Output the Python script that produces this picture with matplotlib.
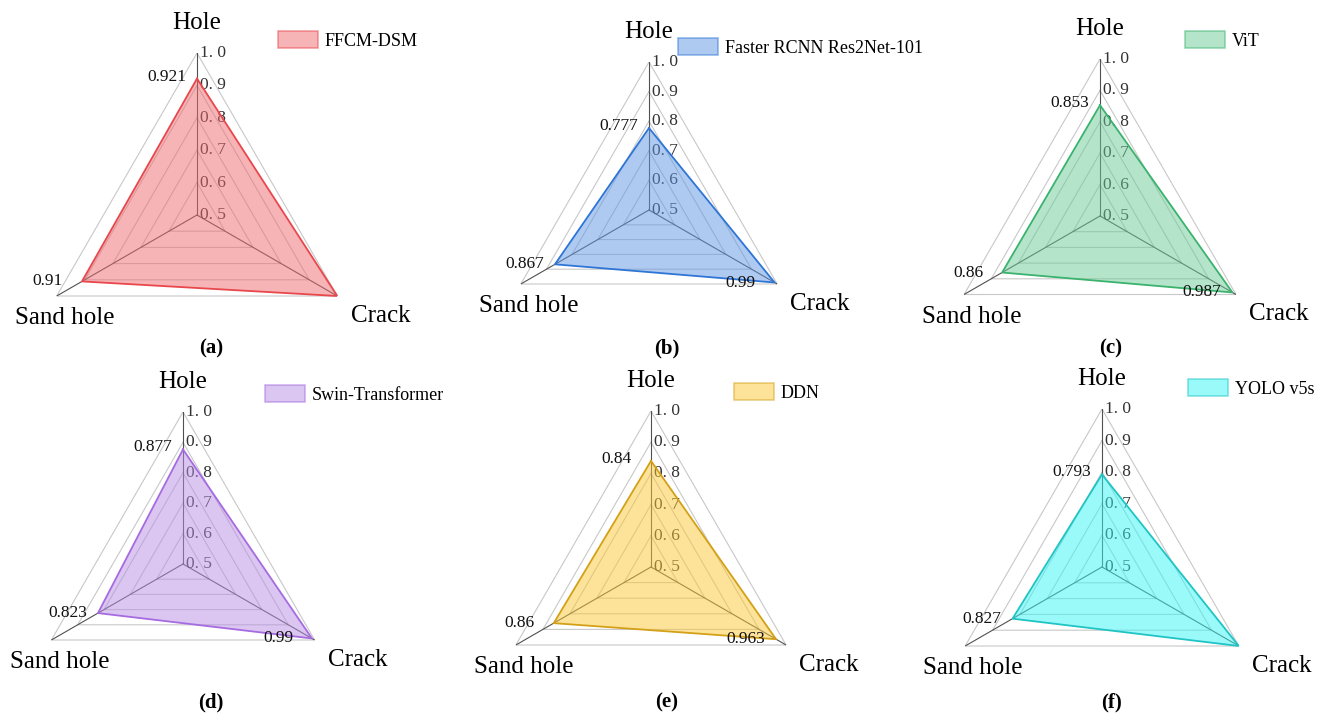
import matplotlib
matplotlib.use("Agg")
import matplotlib.pyplot as plt
import numpy as np
from matplotlib.patches import Patch

plt.rcParams['font.family'] = ['Liberation Serif', 'DejaVu Serif']

# data
categories = ["Hole", "Crack", "Sand hole"]
models = ["FFCM-DSM", "Faster RCNN Res2Net-101", "ViT",
          "Swin-Transformer", "DDN", "YOLO v5s"]
hole = [0.921, 0.777, 0.853, 0.877, 0.84, 0.793]
crack = [1.0, 0.99, 0.987, 0.99, 0.963, 1.0]
sand_hole = [0.91, 0.867, 0.86, 0.823, 0.86, 0.827]
panel_tags = ["(a)", "(b)", "(c)", "(d)", "(e)", "(f)"]
rticks = [0.5, 0.6, 0.7, 0.8, 0.9, 1.0]
rtick_labels = ["0. 5", "0. 6", "0. 7", "0. 8", "0. 9", "1. 0"]

line_colors = ["#E8474C", "#2E75D6", "#3BB26E", "#A66BE0", "#D4A017", "#20C4C4"]
fill_colors = ["#EF6B71", "#5F97E5", "#6BCD97", "#B98DE5", "#FBC935", "#37F5F5"]

# layout (pixels): radar centre x, y from top, radius of the 1.0 ring
W, H = 1321, 713
centers = [(197, 215, 162), (649, 210, 148), (1100, 216, 157),
           (183, 564, 152), (651, 567, 156), (1102, 567, 158)]
legend_pos = [(278, 31), (678, 38), (1185, 31), (265, 385), (734, 383), (1188, 379)]
tag_pos = [(211, 348), (667, 348), (1111, 348), (211, 702), (667, 702), (1111, 702)]
cat_offsets = [(0, 30), (43, -20), (8, -22)]

fig = plt.figure(figsize=(W / 100, H / 100), dpi=100)

theta = np.array([0, 2 * np.pi / 3, 4 * np.pi / 3])
ring = np.append(theta, theta[0])

for i in range(6):
    cx, cy, r = centers[i]
    ax = fig.add_axes([(cx - r) / W, (H - cy - r) / H, 2 * r / W, 2 * r / H],
                      projection='polar')
    ax.set_theta_offset(np.pi / 2)
    ax.set_theta_direction(-1)
    ax.set_ylim(0.5, 1.0)
    ax.grid(False)
    ax.spines['polar'].set_visible(False)
    ax.set_xticks([])
    ax.set_yticks([])
    ax.patch.set_alpha(0)

    # triangle grid + spokes
    for v in rticks[1:]:
        ax.plot(ring, [v] * 4, color="#c8c8c8", lw=0.8, zorder=1)
    for t in theta:
        ax.plot([t, t], [0.5, 1.0], color="#505050", lw=0.8, zorder=1.5)

    # radial tick labels along the Hole axis
    for v, lab in zip(rticks, rtick_labels):
        ax.annotate(lab, (0, v), xytext=(3, 0), textcoords='offset pixels',
                    ha='left', va='center', fontsize=12.5, color="#333333",
                    zorder=2, annotation_clip=False)

    vals = [hole[i], crack[i], sand_hole[i]]
    closed = vals + [vals[0]]
    ax.fill(ring, closed, color=fill_colors[i], alpha=0.5, lw=0, zorder=3)
    ax.plot(ring, closed, color=line_colors[i], lw=1.3, zorder=4)

    # value labels
    for t, v, dy in zip(theta, vals, [2, 0, 0]):
        if v >= 1.0:
            continue
        s = f"{v:g}"
        ax.annotate(s, (t, v), xytext=(-11 - 8 * (5 - len(s)), dy),
                    textcoords='offset pixels', ha='right', va='center',
                    fontsize=12.5, color="#111111", zorder=5,
                    annotation_clip=False)

    # category labels
    for t, cat, off in zip(theta, categories, cat_offsets):
        ax.annotate(cat, (t, 1.0), xytext=off, textcoords='offset pixels',
                    ha='center', va='center', fontsize=18,
                    annotation_clip=False)

    lx, ly = legend_pos[i]
    handle = Patch(facecolor=fill_colors[i], edgecolor=line_colors[i],
                   alpha=0.5, lw=1.2, label=models[i])
    ax.legend(handles=[handle], loc='upper left',
              bbox_to_anchor=(lx / W, 1 - ly / H), bbox_transform=fig.transFigure,
              frameon=False, borderpad=0, borderaxespad=0, handlelength=2.2,
              handleheight=1.1, handletextpad=0.4, fontsize=13)

    tx, ty = tag_pos[i]
    fig.text(tx / W, 1 - ty / H, panel_tags[i], ha='center', va='center',
             fontsize=15, fontweight='bold')

fig.savefig("out.png", dpi=100, facecolor="white")
